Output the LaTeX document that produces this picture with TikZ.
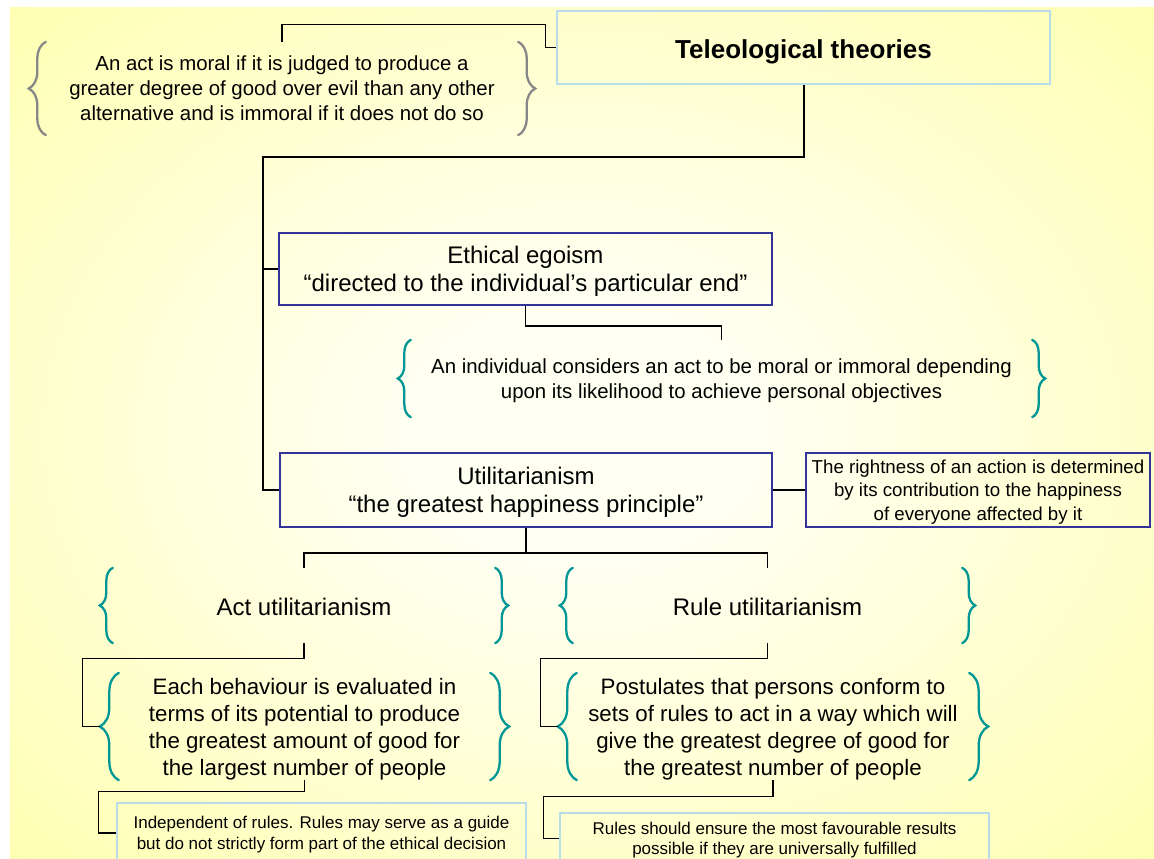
\documentclass[tikz,border=0pt]{standalone}
\usepackage{fontspec}
\setmainfont{Liberation Sans}
\usetikzlibrary{decorations.pathreplacing}

\definecolor{bgout}{RGB}{255,255,150}
\definecolor{bgin}{RGB}{255,255,242}
\definecolor{frameblue}{RGB}{51,51,153}
\definecolor{paleblue}{RGB}{183,221,232}
\definecolor{braceteal}{RGB}{0,150,150}
\definecolor{bracegray}{RGB}{135,135,135}

% soft light centre fading to yellow towards the edges
\pgfdeclareradialshading{backdrop}{\pgfpoint{0bp}{0bp}}{%
  color(0bp)=(bgin); color(8bp)=(bgin); color(48bp)=(bgout); color(100bp)=(bgout)}

% a pair of curly braces on the left and right side of a node
\newcommand\drawbraces[3]{%
  \draw[curly=#3, draw=#2] (#1.south west) -- (#1.north west);
  \draw[curly=#3, draw=#2] (#1.north east) -- (#1.south east);}

\tikzset{
  conn/.style={draw=black, line width=1.3pt},
  trunk/.style={draw=black, line width=2pt},
  % single line: lowers the text inside its frame by half the given amount
  tdown/.style={execute at begin node={\rule{0pt}{\dimexpr\fontcharht\font`l+#1\relax}}},
  % several lines: a trimmed depth lowers the text block inside its frame
  tlow/.style={text depth=#1},
  bluebox/.style={draw=frameblue, line width=2.2pt, inner sep=0pt, align=center},
  palebox/.style={draw=paleblue, line width=2.6pt, inner sep=0pt, align=center},
  bracetext/.style={inner sep=0pt, align=center},
  curly/.style={decorate, decoration={brace, amplitude=#1}, line width=2.3pt, line cap=round},
  curly/.default=14pt,
  txttitle/.style={font=\fontsize{26pt}{31pt}\selectfont\bfseries},
  txtbox/.style={font=\fontsize{24pt}{28pt}\selectfont},
  txtbody/.style={font=\fontsize{20.4pt}{25pt}\selectfont},
  txtdesc/.style={font=\fontsize{22.3pt}{27pt}\selectfont},
  txtsmall/.style={font=\fontsize{18.7pt}{23.5pt}\selectfont},
  txtnote/.style={font=\fontsize{17pt}{20.5pt}\selectfont},
}

\begin{document}
\begin{tikzpicture}[x=1pt, y=-1pt]
  \useasboundingbox (0,0) rectangle (1154,859);
  \fill[white] (0,0) rectangle (1154,859);
  \clip (0,0) rectangle (1154,859);
  \shade[shading=backdrop] (10,8) rectangle (1154,859);

  % nodes
  \node[palebox, txttitle, tdown=9pt, minimum width=493pt, minimum height=73pt] (tele) at (803.5,47.5) {Teleological theories};
  \node[bracetext, txtbody, tlow=-3pt, minimum width=472pt, minimum height=93pt] (moral) at (282,88.5)
    {An act is moral if it is judged to produce a\\greater degree of good over evil than any other\\alternative and is immoral if it does not do so};
  \node[bluebox, txtbox, tlow=-1pt, minimum width=493pt, minimum height=72pt] (egoism) at (525.5,269)
    {Ethical egoism\\“directed to the individual’s particular end”};
  \node[bracetext, txtbody, tlow=-3.7pt, minimum width=621pt, minimum height=77pt] (egodef) at (721.5,378.5)
    {An individual considers an act to be moral or immoral depending\\upon its likelihood to achieve personal objectives};
  \node[bluebox, txtbox, tlow=-1pt, minimum width=492pt, minimum height=74pt] (util) at (526,490)
    {Utilitarianism\\“the greatest happiness principle”};
  \node[bluebox, txtsmall, tlow=-2.1pt, minimum width=344pt, minimum height=74pt] (utildef) at (978,490)
    {The rightness of an action is determined\\by its contribution to the happiness\\of everyone affected by it};
  \node[bracetext, txtbox, tdown=4pt, minimum width=382pt, minimum height=75pt] (act) at (304,605.5) {Act utilitarianism};
  \node[bracetext, txtbox, tdown=4pt, minimum width=389pt, minimum height=75pt] (rule) at (767.5,605.5) {Rule utilitarianism};
  \node[bracetext, txtdesc, tlow=-3.3pt, minimum width=371pt, minimum height=107pt] (actdesc) at (304.5,726.5)
    {Each behaviour is evaluated in\\terms of its potential to produce\\the greatest amount of good for\\the largest number of people};
  \node[bracetext, txtdesc, tlow=-3.3pt, minimum width=392pt, minimum height=107pt] (ruledesc) at (773,726.5)
    {Postulates that persons conform to\\sets of rules to act in a way which will\\give the greatest degree of good for\\the greatest number of people};
  \node[palebox, txtnote, tlow=-0.4pt, minimum width=409pt, minimum height=60pt] (actnote) at (321.5,833)
    {Independent of rules. Rules may serve as a guide\\but do not strictly form part of the ethical decision};
  \node[palebox, txtnote, tlow=-1.4pt, minimum width=429pt, minimum height=51pt] (rulenote) at (774.5,838.5)
    {Rules should ensure the most favourable results\\possible if they are universally fulfilled};

  % braces
  \drawbraces{moral}{bracegray}{17pt}
  \drawbraces{egodef}{braceteal}{13pt}
  \drawbraces{act}{braceteal}{13pt}
  \drawbraces{rule}{braceteal}{13pt}
  \drawbraces{actdesc}{braceteal}{19pt}
  \drawbraces{ruledesc}{braceteal}{19pt}

  % connectors
  \draw[conn] (tele.west) -- ++(-10,0) |- ([yshift=17pt]moral.north) -- (moral.north);
  \coordinate (fork) at (263,157);
  \draw[trunk] (tele.south) |- (fork) |- (util.west);
  \draw[conn] (fork |- egoism.west) -- (egoism.west);
  \draw[conn] (egoism.south) -- ++(0,20) -| (egodef.north);
  \draw[conn] (util.east) -- (utildef.west);
  \draw[conn] (util.south) -- ++(0,25) coordinate (split);
  \draw[conn] (act.north) |- (split) -| (rule.north);
  \draw[conn] (act.south) -- ++(0,15) -| ([xshift=-36pt]actdesc.west) -- ([xshift=-19pt]actdesc.west);
  \draw[conn] (actdesc.south) -- ++(0,11) -| ([xshift=-17pt]actnote.west) -- (actnote.west);
  \draw[conn] (rule.south) -- ++(0,15) -| ([xshift=-36pt]ruledesc.west) -- ([xshift=-19pt]ruledesc.west);
  \draw[conn] (ruledesc.south) -- ++(0,16) -| ([xshift=-15pt]rulenote.west) -- (rulenote.west);
\end{tikzpicture}
\end{document}
